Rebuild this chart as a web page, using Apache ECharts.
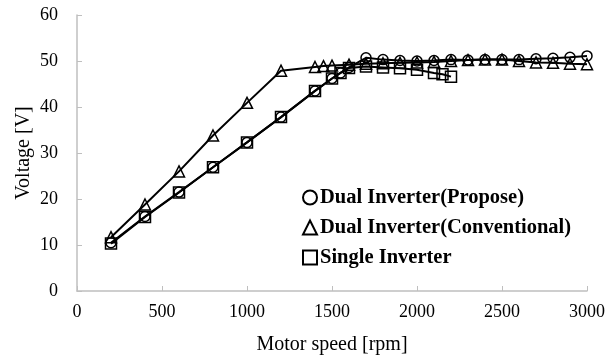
<!DOCTYPE html>
<html>
<head>
<meta charset="utf-8">
<script src="https://cdn.jsdelivr.net/npm/echarts@6/dist/echarts.min.js"></script>
<style>
  html, body { margin: 0; padding: 0; background: #fff; }
  #chartBox { width: 616px; height: 361px; }
</style>
</head>
<body>
<div id="chartBox"></div>
<script>
// motor speed [rpm] / voltage [V] per series
var speedPropose = [200, 400, 600, 800, 1000, 1200, 1400, 1500, 1550, 1600, 1700, 1800, 1900, 2000, 2100, 2200, 2300, 2400, 2500, 2600, 2700, 2800, 2900, 3000]
var voltPropose = [10.5, 16.2, 21.5, 26.9, 32.3, 37.8, 43.5, 46.2, 47.4, 48.6, 50.7, 50.3, 50.1, 50.0, 50.1, 50.3, 50.2, 50.3, 50.3, 50.3, 50.5, 50.6, 50.8, 51.1]

var speedConv = [200, 400, 600, 800, 1000, 1200, 1400, 1450, 1500, 1600, 1700, 1800, 1900, 2000, 2100, 2200, 2300, 2400, 2500, 2600, 2700, 2800, 2900, 3000]
var voltConv = [11.7, 18.8, 26.0, 33.8, 40.9, 47.9, 48.7, 48.9, 49.0, 49.2, 49.4, 49.5, 49.6, 49.7, 49.8, 50.0, 50.2, 50.3, 50.3, 50.0, 49.7, 49.6, 49.4, 49.3]

var speedSingle = [200, 400, 600, 800, 1000, 1200, 1400, 1500, 1550, 1600, 1700, 1800, 1900, 2000, 2100, 2150, 2200]
var voltSingle = [10.3, 16.1, 21.4, 26.9, 32.3, 37.8, 43.5, 46.2, 47.4, 48.5, 48.8, 48.6, 48.4, 48.1, 47.4, 47.1, 46.6]

var seriesNames = ['Dual Inverter(Propose)', 'Dual Inverter(Conventional)', 'Single Inverter']

function pairs(xs, ys) {
  var out = []
  for (var i = 0; i < xs.length; i++) out.push([xs[i], ys[i]])
  return out
}

var serif = '"Liberation Serif", "Times New Roman", serif'

function lineSeries(name, symbol, size, data) {
  return {
    name: name,
    type: 'line',
    data: data,
    symbol: symbol,
    symbolSize: size,
    showAllSymbol: true,
    smooth: false,
    lineStyle: { color: '#000', width: 2 },
    itemStyle: { color: 'rgba(255,255,255,0)', borderColor: '#000', borderWidth: 1.5 },
    emphasis: { disabled: true },
    animation: false
  }
}

var chart = echarts.init(document.getElementById('chartBox'))
chart.setOption({
  animation: false,
  grid: { left: 77, right: 29, top: 15, bottom: 70 },
  legend: {
    orient: 'vertical',
    left: 297,
    top: 182,
    itemGap: 9,
    itemWidth: 14,
    itemHeight: 14,
    selectedMode: false,
    textStyle: { fontFamily: serif, fontSize: 20.5, fontWeight: 'bold', color: '#000', padding: [0, 0, 0, -2] },
    data: [
      { name: seriesNames[0], icon: 'circle' },
      { name: seriesNames[1], icon: 'triangle' },
      { name: seriesNames[2], icon: 'rect' }
    ]
  },
  xAxis: {
    type: 'value',
    min: 0,
    max: 3000,
    interval: 500,
    name: 'Motor speed [rpm]',
    nameLocation: 'middle',
    nameGap: 44,
    nameMoveOverlap: false,
    nameTextStyle: { fontFamily: serif, fontSize: 20, color: '#000' },
    axisLine: { lineStyle: { color: '#bfbfbf', width: 1.5 } },
    axisTick: { show: true, inside: true, length: 5, lineStyle: { color: '#bfbfbf' } },
    axisLabel: { fontFamily: serif, fontSize: 18, color: '#000', margin: 12, formatter: function (v) { return String(v) } },
    splitLine: { show: false }
  },
  yAxis: {
    type: 'value',
    min: 0,
    max: 60,
    interval: 10,
    name: 'Voltage [V]',
    nameLocation: 'middle',
    nameRotate: 90,
    nameGap: 43,
    nameMoveOverlap: false,
    nameTextStyle: { fontFamily: serif, fontSize: 20, color: '#000' },
    axisLine: { show: true, lineStyle: { color: '#bfbfbf', width: 1.5 } },
    axisTick: { show: true, inside: true, length: 5, lineStyle: { color: '#bfbfbf' } },
    axisLabel: { fontFamily: serif, fontSize: 18, color: '#000', margin: 19 },
    splitLine: { show: false }
  },
  series: [
    lineSeries(seriesNames[0], 'circle', 10, pairs(speedPropose, voltPropose)),
    lineSeries(seriesNames[1], 'triangle', 11, pairs(speedConv, voltConv)),
    lineSeries(seriesNames[2], 'rect', 11, pairs(speedSingle, voltSingle))
  ]
})
</script>
</body>
</html>
